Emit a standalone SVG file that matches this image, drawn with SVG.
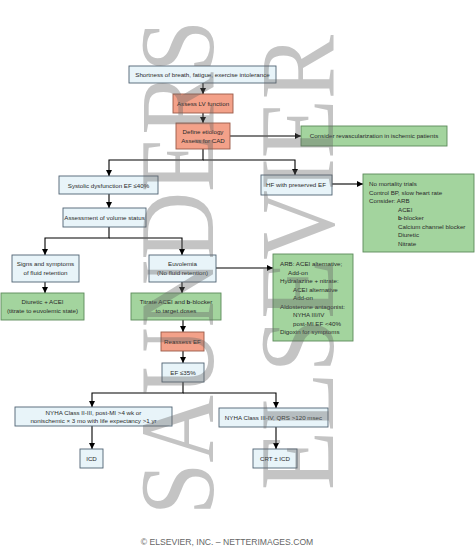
<svg xmlns="http://www.w3.org/2000/svg" width="475" height="550" viewBox="0 0 475 550">
<defs>
<marker id="ah" viewBox="0 0 10 10" refX="10" refY="5" markerWidth="6" markerHeight="6" markerUnits="userSpaceOnUse" orient="auto"><path d="M0,0 L10,5 L0,10 z" fill="#000"/></marker>
</defs>
<style>
.b{fill:#e8f4f9;stroke:#4f6272;stroke-width:0.9}
.s{fill:#f3a189;stroke:#9a5a48;stroke-width:0.9}
.g{fill:#a3d49e;stroke:#5c8a5a;stroke-width:0.9}
text{font-family:"Liberation Sans",Arial,sans-serif;font-size:6.2px;fill:#2a2a2a}
.c{text-anchor:middle}
.cn path{fill:none;stroke:#000;stroke-width:1.1}
.wm{font-family:"Liberation Serif","Times New Roman",serif;font-size:106px;fill:#666;opacity:0.38}
.cp{font-size:8.6px;fill:#666;text-anchor:middle}
</style>
<rect x="0" y="0" width="475" height="550" fill="#fff"/>
<g id="connectors" class="cn">
<path d="M203,83 V94" marker-end="url(#ah)"/>
<path d="M203,113 V123" marker-end="url(#ah)"/>
<path d="M230,136 H301" marker-end="url(#ah)"/>
<path d="M203,149 V160 H109 V176" marker-end="url(#ah)"/>
<path d="M203,160 H295 V175" marker-end="url(#ah)"/>
<path d="M332,184 H363" marker-end="url(#ah)"/>
<path d="M109,194 V208" marker-end="url(#ah)"/>
<path d="M109,227 V238 H45 V255" marker-end="url(#ah)"/>
<path d="M109,238 H182 V255" marker-end="url(#ah)"/>
<path d="M216,268 H273" marker-end="url(#ah)"/>
<path d="M45,282 V293" marker-end="url(#ah)"/>
<path d="M182,282 V293" marker-end="url(#ah)"/>
<path d="M183,320 V332" marker-end="url(#ah)"/>
<path d="M183,351 V363" marker-end="url(#ah)"/>
<path d="M183,382 V393 H92 V407" marker-end="url(#ah)"/>
<path d="M183,393 H276 V408" marker-end="url(#ah)"/>
<path d="M92,426 V449" marker-end="url(#ah)"/>
<path d="M276,427 V449" marker-end="url(#ah)"/>
</g>
<g id="n-symptoms"><rect class="b" x="129" y="66" width="147" height="17"/><text class="c" x="202.5" y="77">Shortness of breath, fatigue, exercise intolerance</text></g>
<g id="n-assesslv"><rect class="s" x="173" y="94" width="60" height="19"/><text class="c" x="203" y="106">Assess LV function</text></g>
<g id="n-etiology"><rect class="s" x="176" y="123" width="54" height="26"/><text class="c" x="203" y="134">Define etiology</text><text class="c" x="203" y="143">Assess for CAD</text></g>
<g id="n-revasc"><rect class="g" x="301" y="126" width="146" height="20"/><text class="c" x="374" y="138">Consider revascularization in ischemic patients</text></g>
<g id="n-systolic"><rect class="b" x="59" y="176" width="99" height="18"/><text class="c" x="108.5" y="187.5">Systolic dysfunction EF ≤40%</text></g>
<g id="n-hfpef"><rect class="b" x="261" y="175" width="71" height="20"/><text class="c" x="296" y="187">HF with preserved EF</text></g>
<g id="n-hfpef-tx"><rect class="g" x="363" y="174" width="111" height="78"/>
<text x="369" y="186">No mortality trials</text>
<text x="369" y="194.5">Control BP, slow heart rate</text>
<text x="369" y="203">Consider: ARB</text>
<text x="398" y="211.5">ACEI</text>
<text x="398" y="220"><tspan font-weight="bold">b</tspan>-blocker</text>
<text x="398" y="228.5">Calcium channel blocker</text>
<text x="398" y="237">Diuretic</text>
<text x="398" y="245.5">Nitrate</text></g>
<g id="n-volume"><rect class="b" x="63" y="208" width="83" height="19"/><text class="c" x="104.5" y="219.5">Assessment of volume status</text></g>
<g id="n-signs"><rect class="b" x="12" y="255" width="67" height="27"/><text class="c" x="45.5" y="266">Signs and symptoms</text><text class="c" x="45.5" y="274.5">of fluid retention</text></g>
<g id="n-euvolemia"><rect class="b" x="149" y="255" width="67" height="27"/><text class="c" x="182.5" y="266">Euvolemia</text><text class="c" x="182.5" y="274.5">(No fluid retention)</text></g>
<g id="n-arb"><rect class="g" x="273" y="254" width="80" height="87"/>
<text x="280" y="266">ARB: ACEI alternative;</text>
<text x="288" y="274.5">Add-on</text>
<text x="280" y="283">Hydralazine + nitrate:</text>
<text x="293" y="291.5">ACEI alternative</text>
<text x="293" y="300">Add-on</text>
<text x="280" y="308.5">Aldosterone antagonist:</text>
<text x="293" y="317">NYHA III/IV</text>
<text x="293" y="325.5">post-MI EF &lt;40%</text>
<text x="280" y="334">Digoxin for symptoms</text></g>
<g id="n-diuretic"><rect class="g" x="1" y="293" width="83" height="27"/><text class="c" x="42.5" y="304">Diuretic + ACEI</text><text class="c" x="42.5" y="313">(titrate to euvolemic state)</text></g>
<g id="n-titrate"><rect class="g" x="131" y="293" width="90" height="27"/><text class="c" x="176" y="304">Titrate ACEI and <tspan font-weight="bold">b</tspan>-blocker</text><text class="c" x="176" y="313">to target doses</text></g>
<g id="n-reassess"><rect class="s" x="161" y="332" width="43" height="19"/><text class="c" x="182.5" y="344">Reassess EF</text></g>
<g id="n-ef35"><rect class="b" x="162" y="363" width="42" height="19"/><text class="c" x="183" y="375">EF ≤35%</text></g>
<g id="n-nyha-icd"><rect class="b" x="15" y="407" width="157" height="19"/><text class="c" x="93.5" y="415">NYHA Class II-III, post-MI &gt;4 wk or</text><text class="c" x="93.5" y="423">nonischemic × 3 mo with life expectancy &gt;1 yr</text></g>
<g id="n-nyha-crt"><rect class="b" x="219" y="408" width="109" height="19"/><text class="c" x="273.5" y="420">NYHA Class III-IV, QRS &gt;120 msec</text></g>
<g id="n-icd"><rect class="b" x="80" y="449" width="23" height="19"/><text class="c" x="91.5" y="461">ICD</text></g>
<g id="n-crt"><rect class="b" x="253" y="449" width="44" height="19"/><text class="c" x="275" y="461">CRT ± ICD</text></g>
<g id="watermark">
<text class="wm" transform="translate(213,515) rotate(-90)" textLength="495" lengthAdjust="spacingAndGlyphs">SAUNDERS</text>
<text class="wm" transform="translate(333,490) rotate(-90)" textLength="455" lengthAdjust="spacingAndGlyphs">ELSEVIER</text>
</g>
<text class="cp" x="227" y="545">© ELSEVIER, INC. – NETTERIMAGES.COM</text>
</svg>
